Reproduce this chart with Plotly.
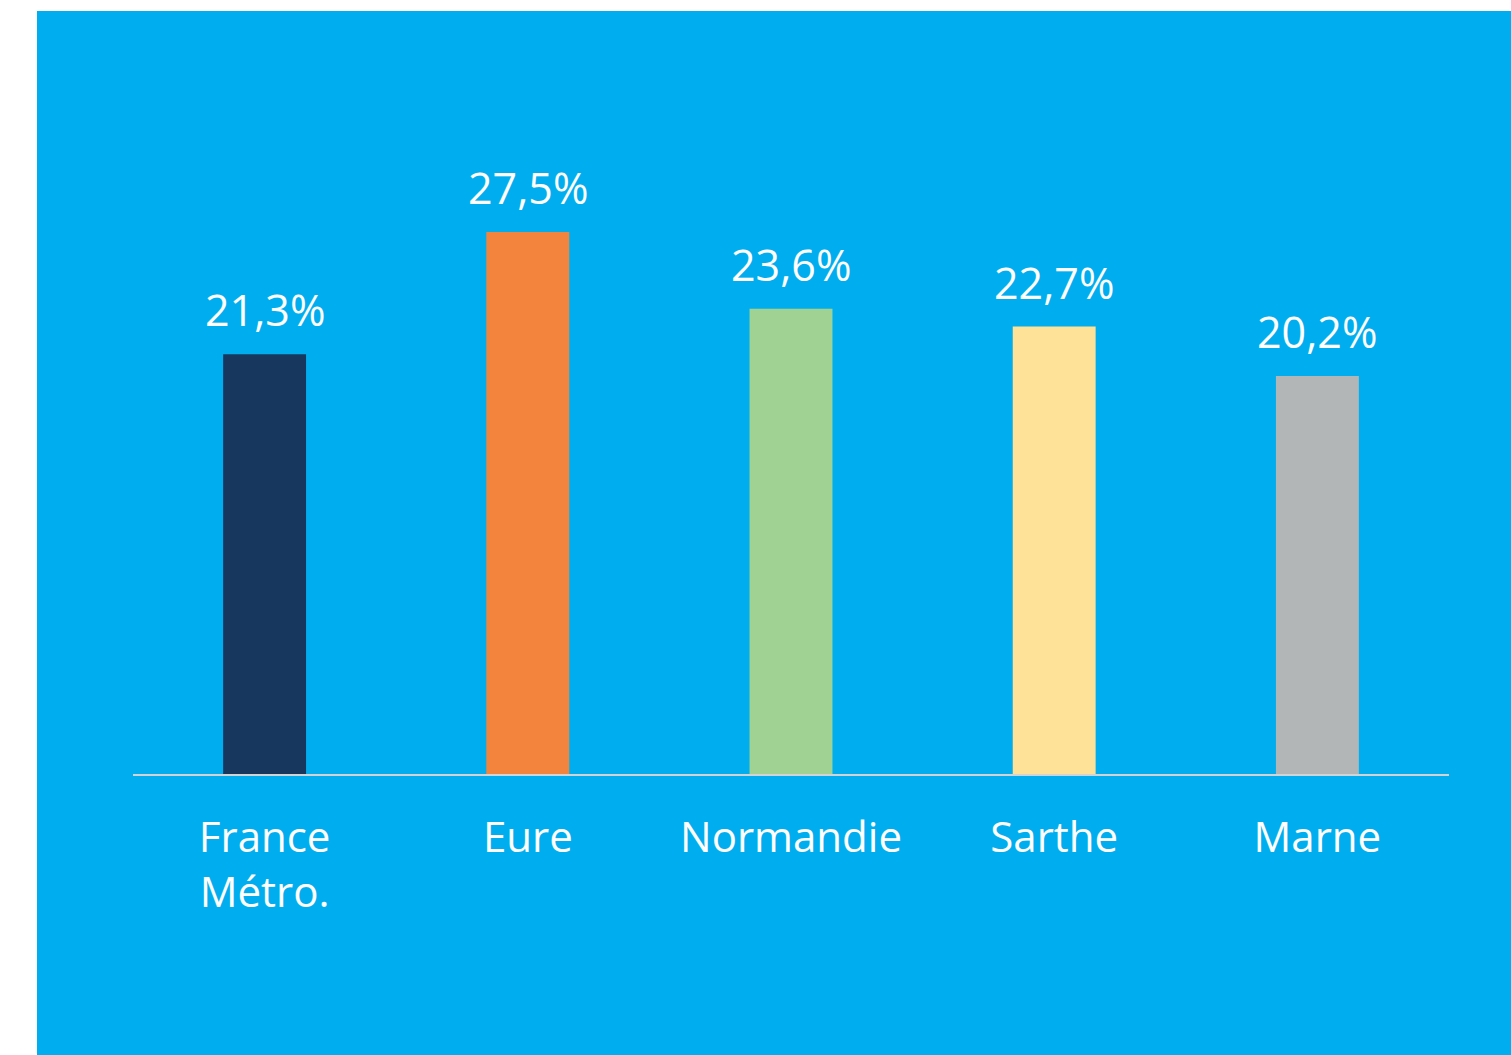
import plotly.graph_objects as go

categories = ["France<br>Métro.", "Eure", "Normandie", "Sarthe", "Marne"]
values = [21.3, 27.5, 23.6, 22.7, 20.2]
value_labels = ["21,3%", "27,5%", "23,6%", "22,7%", "20,2%"]
bar_colors = ["#17375E", "#F3843E", "#A0D293", "#FDE298", "#B2B6B6"]

BLUE = "#00AEEF"
W, H = 1511, 1055
ML, MR, MT, MB = 133, 62, 50, 281
pw = W - ML - MR
ph = H - MT - MB
ymax = ph / (542 / 27.5)

fig = go.Figure(go.Bar(
    x=categories, y=values,
    marker=dict(color=bar_colors, line=dict(width=0)),
    width=0.315, hoverinfo="skip",
))

for c, v, t in zip(categories, values, value_labels):
    fig.add_annotation(x=c, y=v, text=t, showarrow=False, yanchor="bottom",
                       yshift=13, font=dict(family="Open Sans", size=43, color="white"))

# white strips outside the blue panel (left and top)
fig.add_shape(type="rect", xref="paper", yref="paper",
              x0=-ML / pw - 0.01, x1=(37 - ML) / pw, y0=-MB / ph - 0.01, y1=(H - MB) / ph + 0.01,
              fillcolor="white", line=dict(width=0), layer="above")
fig.add_shape(type="rect", xref="paper", yref="paper",
              x0=-ML / pw - 0.01, x1=1.1, y0=(H - MB - 11) / ph, y1=(H - MB) / ph + 0.01,
              fillcolor="white", line=dict(width=0), layer="above")

fig.update_layout(
    width=W, height=H,
    margin=dict(l=ML, r=MR, t=MT, b=MB, pad=0),
    paper_bgcolor=BLUE, plot_bgcolor=BLUE,
    showlegend=False,
    xaxis=dict(showline=True, linecolor="#D0D4D6", linewidth=2, ticks="",
               tickfont=dict(family="Open Sans", size=42, color="white"),
               ticklabelstandoff=26, showgrid=False, zeroline=False),
    yaxis=dict(range=[0, ymax], visible=False, showgrid=False, zeroline=False),
)

fig.write_html("out.html", config={"displayModeBar": False},
               post_script="document.body.style.margin='0';document.documentElement.style.overflow='hidden';document.body.style.overflow='hidden';")
